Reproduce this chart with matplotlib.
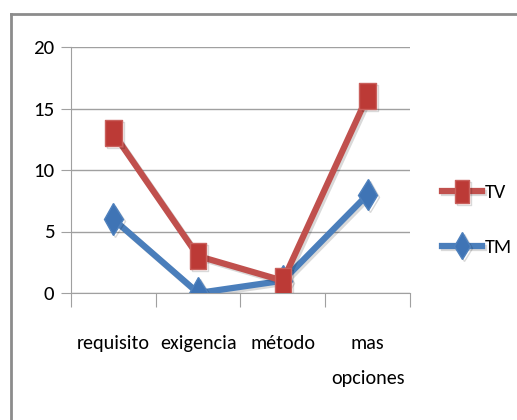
import matplotlib
matplotlib.use("Agg")
import matplotlib.pyplot as plt
from matplotlib import patheffects as pe
from matplotlib.lines import Line2D
import logging
logging.getLogger('matplotlib.font_manager').setLevel(logging.ERROR)

categories = ["requisito", "exigencia", "método", "mas\nopciones"]
tv = [13, 3, 1, 16]
tm = [6, 0, 1, 8]
yticks = [0, 5, 10, 15, 20]

plt.rcParams['font.family'] = ['Carlito', 'Calibri', 'Liberation Sans Narrow',
                               'Roboto Condensed', 'Open Sans Condensed',
                               'Archivo Narrow', 'PT Sans Narrow', 'DejaVu Sans']

W, H = 517, 420
fig = plt.figure(figsize=(W / 100, H / 100), dpi=100)
fig.patch.set_facecolor('white')

# outer chart border (top and left visible)
fig.add_artist(Line2D([11 / W, 11 / W], [0, 1 - 14 / H], transform=fig.transFigure,
                      color='#8c8c8c', lw=2))
fig.add_artist(Line2D([11 / W, 1], [1 - 14 / H, 1 - 14 / H], transform=fig.transFigure,
                      color='#8c8c8c', lw=2))

ax = fig.add_axes([71 / W, 1 - 293 / H, (410 - 71) / W, (293 - 47) / H])
x = [i + 0.5 for i in range(len(categories))]

red = '#C0504D'
blue = '#4A7EBB'
shadow = [pe.SimpleLineShadow(offset=(1.5, -1.5), alpha=0.15), pe.Normal()]
rect = [(-0.62, -1), (0.62, -1), (0.62, 1), (-0.62, 1), (-0.62, -1)]

ax.plot(x, tm, color=blue, lw=4.5, marker='d', markersize=16,
        markerfacecolor='#3F74B5', markeredgecolor='#4F81BD', label='TM',
        path_effects=shadow, zorder=3, solid_joinstyle='miter')
ax.plot(x, tv, color=red, lw=4.5, marker=rect, markersize=19,
        markerfacecolor='#BC3A36', markeredgecolor='#C9605C', label='TV',
        path_effects=shadow, zorder=4, solid_joinstyle='miter')

ax.set_xlim(0, 4)
ax.set_ylim(0, 20)
ax.set_yticks(yticks)
ax.set_yticklabels([str(v) for v in yticks], fontsize=15)
ax.yaxis.grid(True, color='#a0a0a0', lw=1)
ax.set_axisbelow(True)
ax.tick_params(axis='y', length=7, color='#a0a0a0', pad=5)

ax.set_xticks([0, 1, 2, 3, 4])
ax.set_xticklabels([])
ax.tick_params(axis='x', which='major', length=10, color='#a0a0a0')
ax.set_xticks(x, minor=True)
ax.set_xticklabels(categories, minor=True, fontsize=14.5, linespacing=2.3, va='top')
ax.tick_params(axis='x', which='minor', length=0, pad=30)

for s in ['top', 'right']:
    ax.spines[s].set_visible(False)
ax.spines['left'].set_color('#a0a0a0')
ax.spines['bottom'].set_color('#a0a0a0')

h, l = ax.get_legend_handles_labels()
fig.legend(h[::-1], l[::-1], loc='center left', bbox_to_anchor=(424 / W, 1 - 220 / H),
           frameon=False, fontsize=14.5, handlelength=2.0, labelspacing=1.85,
           handletextpad=0.1, markerscale=0.85)

fig.savefig('out.png', dpi=100)
